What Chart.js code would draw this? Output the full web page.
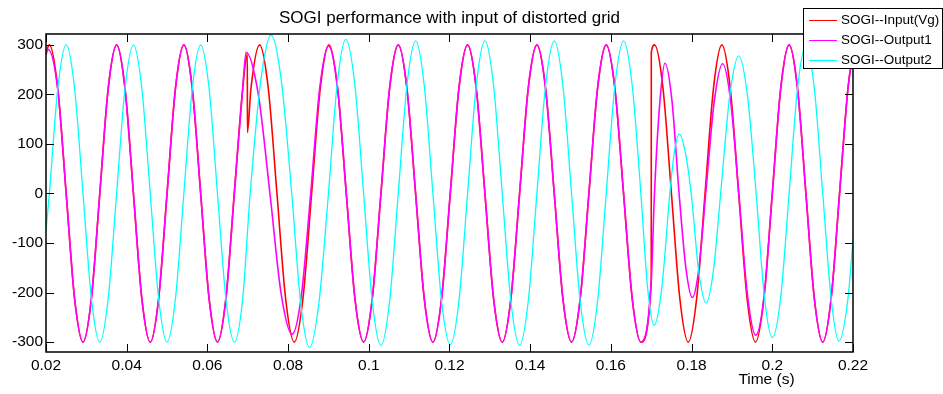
<!DOCTYPE html>
<html><head><meta charset="utf-8">
<script src="https://cdn.jsdelivr.net/npm/chart.js@4/dist/chart.umd.min.js"></script>
<style>html,body{margin:0;padding:0;background:#fff;overflow:hidden}canvas{display:block}</style>
</head><body>
<canvas id="c" width="943" height="394"></canvas>
<script>
const chartTitle = 'SOGI performance with input of distorted grid';
const xAxisLabel = 'Time (s)';
const seriesNames = ['SOGI--Input(Vg)', 'SOGI--Output1', 'SOGI--Output2'];
const xTicks = [0.02, 0.04, 0.06, 0.08, 0.1, 0.12, 0.14, 0.16, 0.18, 0.2, 0.22];
const xTickLabels = ['0.02', '0.04', '0.06', '0.08', '0.1', '0.12', '0.14', '0.16', '0.18', '0.2', '0.22'];
const yTicks = [-300, -200, -100, 0, 100, 200, 300];
const yTickLabels = ['-300', '-200', '-100', '0', '100', '200', '300'];

// SOGI--Input(Vg)
const vgTime = [0.02, 0.020833, 0.022917, 0.025, 0.027083, 0.029167, 0.03125, 0.033333, 0.035417, 0.0375, 0.039583, 0.041667, 0.04375, 0.045833, 0.047917, 0.05, 0.052083, 0.054167, 0.05625, 0.058333, 0.060417, 0.0625, 0.064583, 0.066667, 0.06875, 0.0699,
  0.06991, 0.07079, 0.07294, 0.07509, 0.07724, 0.07938, 0.08153, 0.08368, 0.08583, 0.08797, 0.09012, 0.09227, 0.09442, 0.09656, 0.09871, 0.10086, 0.10301, 0.10515, 0.1073, 0.10945, 0.1116, 0.11374, 0.11589, 0.11804, 0.12019, 0.12233, 0.12448, 0.12663, 0.12878, 0.13092, 0.13307, 0.13522, 0.13737, 0.13951, 0.14166, 0.14381, 0.14596, 0.1481, 0.15025, 0.1524, 0.15455, 0.15669, 0.15884, 0.16099, 0.16314, 0.16528, 0.16743, 0.17,
  0.17001, 0.170833, 0.172917, 0.175, 0.177083, 0.179167, 0.18125, 0.183333, 0.185417, 0.1875, 0.189583, 0.191667, 0.19375, 0.195833, 0.197917, 0.2, 0.202083, 0.204167, 0.20625, 0.208333, 0.210417, 0.2125, 0.214583, 0.216667, 0.21875, 0.22];
const vgValue = [285, 300, 212, 0, -212, -300, -212, 0, 212, 300, 212, 0, -212, -300, -212, 0, 212, 300, 212, 0, -212, -300, -212, 0, 212, 282,
  123, 212, 300, 212, 0, -212, -300, -212, 0, 212, 300, 212, 0, -212, -300, -212, 0, 212, 300, 212, 0, -212, -300, -212, 0, 212, 300, 212, 0, -212, -300, -212, 0, 212, 300, 212, 0, -212, -300, -212, 0, 212, 300, 212, 0, -212, -300, -177,
  285, 300, 212, 0, -212, -300, -212, 0, 212, 300, 212, 0, -212, -300, -212, 0, 212, 300, 212, 0, -212, -300, -212, 0, 212, 285];

// SOGI--Output1
const out1Time = [0.02, 0.0205, 0.022917, 0.025, 0.027083, 0.029167, 0.03125, 0.033333, 0.035417, 0.0375, 0.039583, 0.041667, 0.04375, 0.045833, 0.047917, 0.05, 0.052083, 0.054167, 0.05625, 0.058333, 0.060417, 0.0625, 0.064583, 0.066667, 0.06875,
  0.0696, 0.0726, 0.0755, 0.07825, 0.081, 0.0833, 0.0856, 0.0878, 0.09,
  0.09227, 0.09442, 0.09656, 0.09871, 0.10086, 0.10301, 0.10515, 0.1073, 0.10945, 0.1116, 0.11374, 0.11589, 0.11804, 0.12019, 0.12233, 0.12448, 0.12663, 0.12878, 0.13092, 0.13307, 0.13522, 0.13737, 0.13951, 0.14166, 0.14381, 0.14596, 0.1481, 0.15025, 0.1524, 0.15455, 0.15669, 0.15884, 0.16099, 0.16314, 0.16528, 0.16743, 0.17,
  0.1708, 0.17215, 0.1734, 0.17515, 0.1769, 0.17855, 0.1802, 0.18185, 0.1835, 0.1856, 0.1877, 0.1897, 0.1917, 0.1938, 0.1959, 0.198, 0.2,
  0.202083, 0.204167, 0.20625, 0.208333, 0.210417, 0.2125, 0.214583, 0.216667, 0.21875, 0.22];
const out1Value = [280, 291, 210, 0, -212, -300, -212, 0, 212, 300, 212, 0, -212, -300, -212, 0, 212, 300, 212, 0, -212, -300, -212, 0, 212,
  285, 201, 0, -201, -284, -205, 0, 210, 298,
  212, 0, -212, -300, -212, 0, 212, 300, 212, 0, -212, -300, -212, 0, 212, 300, 212, 0, -212, -300, -212, 0, 212, 300, 212, 0, -212, -300, -212, 0, 212, 300, 212, 0, -212, -300, -177,
  0, 186, 263, 186, 0, -148, -210, -148, 0, 185, 262, 185, 0, -202, -286, -205, 0,
  212, 300, 212, 0, -212, -300, -212, 0, 212, 285];

// SOGI--Output2
const out2Time = [0.02, 0.020833, 0.022917, 0.025, 0.027083, 0.029167, 0.03125, 0.033333, 0.035417, 0.0375, 0.039583, 0.041667, 0.04375, 0.045833, 0.047917, 0.05, 0.052083, 0.054167, 0.05625, 0.058333, 0.060417, 0.0625, 0.064583, 0.066667, 0.06875,
  0.0706, 0.0732, 0.0758, 0.07835, 0.0809, 0.0831, 0.0853, 0.08765, 0.09, 0.09215, 0.0943,
  0.09656, 0.09871, 0.10086, 0.10301, 0.10515, 0.1073, 0.10945, 0.1116, 0.11374, 0.11589, 0.11804, 0.12019, 0.12233, 0.12448, 0.12663, 0.12878, 0.13092, 0.13307, 0.13522, 0.13737, 0.13951, 0.14166, 0.14381, 0.14596, 0.1481, 0.15025, 0.1524, 0.15455, 0.15669, 0.15884, 0.16099, 0.16314, 0.16528, 0.16743,
  0.16907, 0.1707, 0.17265, 0.1746, 0.17575, 0.1769, 0.1784, 0.1799, 0.18175, 0.1836, 0.1854, 0.1872, 0.18945, 0.1917, 0.19385, 0.196, 0.198, 0.2, 0.20208,
  0.204167, 0.20625, 0.208333, 0.210417, 0.2125, 0.21458, 0.2165, 0.21875, 0.22];
const out2Value = [-75, 0, 212, 300, 212, 0, -212, -300, -212, 0, 212, 300, 212, 0, -212, -300, -212, 0, 212, 300, 212, 0, -212, -300, -212,
  0, 226, 320, 226, 0, -220, -311, -220, 0, 220, 311,
  218, 0, -218, -307, -218, 0, 218, 308, 218, 0, -218, -305, -218, 0, 218, 308, 218, 0, -218, -306, -218, 0, 218, 308, 218, 0, -218, -306, -218, 0, 218, 308, 218, 0,
  -188, -266, -188, 0, 85, 120, 85, 0, -156, -221, -156, 0, 197, 278, 197, 0, -206, -291, -210,
  0, 212, 300, 212, 0, -212, -298, -212, -93];

const seriesColors = ['#ff0000', '#ff00ff', '#00ffff'];
const seriesWidths = [1.6, 1.6, 1.3];

const FONT = '"Liberation Sans", Arial, sans-serif';

function pairs(ts, vs) { return ts.map((t, i) => ({ x: t, y: vs[i] })); }

const decoPlugin = {
  id: 'deco',
  afterDraw(chart) {
    const { ctx, chartArea: a, scales: { x, y } } = chart;
    ctx.save();
    // axes box
    ctx.strokeStyle = '#000';
    ctx.lineWidth = 1.5;
    ctx.strokeRect(a.left, a.top, a.right - a.left, a.bottom - a.top);
    // inward ticks
    ctx.lineWidth = 1;
    ctx.beginPath();
    xTicks.forEach(v => {
      const px = Math.round(x.getPixelForValue(v)) + 0.5;
      ctx.moveTo(px, a.bottom); ctx.lineTo(px, a.bottom - 8);
      ctx.moveTo(px, a.top); ctx.lineTo(px, a.top + 8);
    });
    yTicks.forEach(v => {
      const py = Math.round(y.getPixelForValue(v)) + 0.5;
      ctx.moveTo(a.left, py); ctx.lineTo(a.left + 8, py);
      ctx.moveTo(a.right, py); ctx.lineTo(a.right - 8, py);
    });
    ctx.stroke();
    // title
    ctx.fillStyle = '#000';
    ctx.textAlign = 'center';
    ctx.textBaseline = 'middle';
    ctx.font = '17px ' + FONT;
    ctx.fillText(chartTitle, (a.left + a.right) / 2, 18);
    // x label
    ctx.font = '15.5px ' + FONT;
    ctx.fillText(xAxisLabel, 766.5, 380);
    // legend
    const lx = 803, ly = 8, lw = 140, lh = 60;
    ctx.fillStyle = '#fff';
    ctx.fillRect(lx, ly, lw, lh);
    ctx.strokeStyle = '#000';
    ctx.lineWidth = 1;
    ctx.strokeRect(lx + 0.5, ly + 0.5, lw - 1, lh);
    ctx.font = '13.5px ' + FONT;
    ctx.textAlign = 'left';
    chart.data.datasets.forEach((ds, i) => {
      const yy = 20.5 + i * 20;
      ctx.strokeStyle = ds.borderColor;
      ctx.lineWidth = 1;
      ctx.beginPath(); ctx.moveTo(809, yy); ctx.lineTo(837, yy); ctx.stroke();
      ctx.fillStyle = '#000';
      ctx.fillText(ds.label, 841, yy);
    });
    ctx.restore();
  }
};

new Chart(document.getElementById('c'), {
  type: 'line',
  data: {
    datasets: [
      { label: seriesNames[0], data: pairs(vgTime, vgValue), borderColor: seriesColors[0], borderWidth: seriesWidths[0], order: 3 },
      { label: seriesNames[1], data: pairs(out1Time, out1Value), borderColor: seriesColors[1], borderWidth: seriesWidths[1], order: 2 },
      { label: seriesNames[2], data: pairs(out2Time, out2Value), borderColor: seriesColors[2], borderWidth: seriesWidths[2], order: 1 }
    ]
  },
  options: {
    responsive: false,
    animation: false,
    devicePixelRatio: 1,
    events: [],
    elements: {
      point: { radius: 0 },
      line: { cubicInterpolationMode: 'monotone', fill: false }
    },
    layout: { padding: { top: 34, right: 90, left: 0, bottom: 0 } },
    scales: {
      x: {
        type: 'linear', min: 0.02, max: 0.22,
        afterBuildTicks: s => { s.ticks = xTicks.map(v => ({ value: v })); },
        afterFit: s => { s.height = 42; },
        grid: { display: false, drawTicks: false },
        border: { display: false },
        ticks: { autoSkip: false, maxRotation: 0, padding: 4, color: '#000', font: { family: FONT, size: 15.5 },
          callback: (v, i) => xTickLabels[i] }
      },
      y: {
        type: 'linear', min: -320, max: 322,
        afterBuildTicks: s => { s.ticks = yTicks.map(v => ({ value: v })); },
        afterFit: s => { s.width = 46; },
        grid: { display: false, drawTicks: false },
        border: { display: false },
        ticks: { autoSkip: false, padding: 3, color: '#000', font: { family: FONT, size: 15.5 },
          callback: (v, i) => yTickLabels[i] }
      }
    },
    plugins: { legend: { display: false }, title: { display: false }, tooltip: { enabled: false } }
  },
  plugins: [decoPlugin]
});
</script>
</body></html>
